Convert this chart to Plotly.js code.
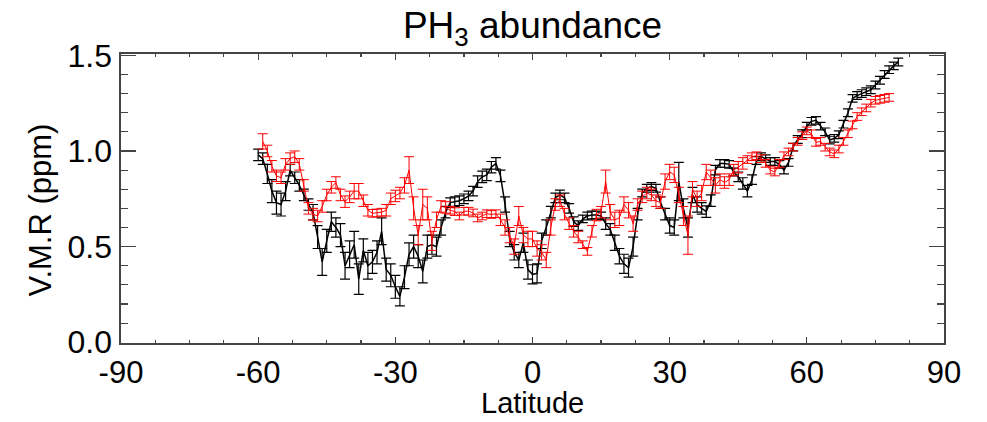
<!DOCTYPE html>
<html>
<head>
<meta charset="utf-8">
<script src="https://cdn.plot.ly/plotly-3.0.1.min.js"></script>
<style>html,body{margin:0;padding:0;background:#fff;}#chart{width:987px;height:422px;}</style>
</head>
<body>
<div id="chart"></div>
<script>
// Black series: latitude -60 .. 80, 1 degree steps
var blackStart = -60;
var blackVMR = [
0.98,0.96,0.88,0.79,0.73,0.72,0.79,0.90,0.86,0.82,
0.77,0.72,0.68,0.55,0.42,0.53,0.63,0.60,0.56,0.40,
0.46,0.51,0.33,0.48,0.40,0.42,0.47,0.58,0.38,0.35,
0.29,0.24,0.34,0.46,0.50,0.45,0.37,0.50,0.51,0.50,
0.60,0.68,0.73,0.735,0.74,0.75,0.765,0.79,0.84,0.865,
0.875,0.915,0.935,0.87,0.72,0.54,0.47,0.43,0.52,0.38,
0.355,0.36,0.53,0.60,0.68,0.755,0.77,0.755,0.70,0.63,
0.61,0.645,0.66,0.665,0.665,0.66,0.62,0.59,0.52,0.45,
0.41,0.39,0.50,0.67,0.78,0.805,0.814,0.805,0.73,0.67,
0.61,0.60,0.84,0.70,0.60,0.77,0.72,0.70,0.683,0.74,
0.90,0.935,0.935,0.93,0.89,0.865,0.83,0.79,0.85,0.95,
0.97,0.96,0.945,0.945,0.93,0.90,0.94,1.02,1.06,1.09,
1.13,1.155,1.16,1.13,1.10,1.057,1.066,1.085,1.14,1.20,
1.275,1.29,1.30,1.31,1.32,1.345,1.37,1.40,1.425,1.445,
1.465];
var blackErr = [
0.03,0.03,0.05,0.06,0.06,0.06,0.05,0.03,0.03,0.03,
0.03,0.03,0.04,0.06,0.07,0.06,0.05,0.05,0.06,0.07,
0.07,0.07,0.08,0.06,0.07,0.06,0.06,0.07,0.06,0.06,
0.06,0.05,0.06,0.06,0.06,0.06,0.06,0.06,0.05,0.05,
0.04,0.03,0.025,0.025,0.025,0.025,0.025,0.025,0.03,0.03,
0.03,0.03,0.03,0.03,0.04,0.04,0.04,0.04,0.05,0.05,
0.05,0.05,0.04,0.04,0.03,0.025,0.025,0.025,0.025,0.025,
0.025,0.02,0.02,0.02,0.02,0.02,0.03,0.03,0.04,0.04,
0.05,0.05,0.05,0.03,0.02,0.02,0.02,0.02,0.03,0.03,
0.04,0.04,0.10,0.05,0.05,0.04,0.04,0.03,0.03,0.03,
0.025,0.02,0.02,0.02,0.02,0.025,0.03,0.03,0.025,0.02,
0.02,0.02,0.02,0.02,0.02,0.02,0.02,0.02,0.02,0.02,
0.02,0.02,0.02,0.02,0.02,0.02,0.02,0.02,0.02,0.02,
0.02,0.02,0.02,0.02,0.02,0.02,0.02,0.02,0.02,0.02,
0.02];

// Red series: latitude -59 .. 78, 1 degree steps
var redStart = -59;
var redVMR = [
1.05,1.00,0.92,0.87,0.86,0.93,0.96,0.97,0.93,0.82,
0.70,0.67,0.66,0.71,0.77,0.81,0.835,0.77,0.735,0.76,
0.79,0.79,0.74,0.69,0.674,0.676,0.68,0.69,0.75,0.765,
0.78,0.82,0.90,0.70,0.56,0.72,0.70,0.53,0.64,0.71,
0.705,0.69,0.683,0.66,0.685,0.685,0.676,0.65,0.66,0.672,
0.668,0.672,0.64,0.60,0.56,0.50,0.66,0.56,0.54,0.54,
0.49,0.47,0.43,0.60,0.72,0.74,0.67,0.62,0.58,0.55,
0.51,0.475,0.58,0.665,0.68,0.84,0.68,0.64,0.65,0.72,
0.69,0.62,0.72,0.76,0.78,0.77,0.74,0.73,0.84,0.89,
0.875,0.77,0.66,0.56,0.80,0.75,0.78,0.89,0.86,0.82,
0.85,0.835,0.85,0.90,0.915,0.935,0.955,0.97,0.975,0.96,
0.935,0.90,0.89,0.935,0.975,0.995,1.02,1.05,1.08,1.105,
1.09,1.045,1.05,1.02,0.995,0.985,1.01,1.05,1.09,1.136,
1.18,1.205,1.225,1.25,1.265,1.27,1.275,1.28];
var redErr = [
0.04,0.03,0.03,0.03,0.03,0.03,0.03,0.03,0.03,0.03,
0.03,0.03,0.03,0.03,0.03,0.03,0.03,0.03,0.03,0.03,
0.04,0.04,0.03,0.03,0.02,0.02,0.02,0.03,0.03,0.03,
0.03,0.04,0.07,0.06,0.05,0.08,0.06,0.05,0.04,0.03,
0.03,0.02,0.02,0.02,0.02,0.02,0.02,0.02,0.02,0.02,
0.02,0.02,0.03,0.04,0.04,0.04,0.05,0.04,0.04,0.04,
0.04,0.04,0.04,0.04,0.03,0.03,0.03,0.03,0.03,0.03,
0.02,0.02,0.03,0.03,0.03,0.06,0.04,0.04,0.04,0.04,
0.04,0.04,0.03,0.03,0.03,0.03,0.03,0.03,0.04,0.04,
0.04,0.04,0.05,0.10,0.04,0.04,0.04,0.04,0.04,0.04,
0.03,0.03,0.03,0.03,0.03,0.03,0.02,0.02,0.02,0.02,
0.02,0.02,0.02,0.02,0.02,0.02,0.02,0.02,0.02,0.02,
0.02,0.02,0.02,0.02,0.02,0.02,0.02,0.02,0.02,0.02,
0.02,0.02,0.02,0.02,0.02,0.02,0.02,0.02];

var xTickVals = [-90,-60,-30,0,30,60,90];
var xTickText = ['-90','-60','-30','0','30','60','90'];
var yTickVals = [0,0.5,1.0,1.5];
var yTickText = ['0.0','0.5','1.0','1.5'];
var titleText = 'PH<sub>3</sub> abundance';
var xTitleText = 'Latitude';
var yTitleText = 'V.M.R (ppm)';

function lats(start, n){ var a=[]; for(var i=0;i<n;i++){a.push(start+i);} return a; }
var blackLat = lats(blackStart, blackVMR.length);
var redLat = lats(redStart, redVMR.length);

var FONT = '"Liberation Sans", Arial, Helvetica, sans-serif';
var AX = '#444444';

var traces = [
  {x: blackLat, y: blackVMR, type:'scatter', mode:'lines',
   line:{color:'#000000', width:1.5},
   error_y:{type:'data', array:blackErr, visible:true, color:'#000000', thickness:1.2, width:5},
   showlegend:false, hoverinfo:'x+y'},
  {x: redLat, y: redVMR, type:'scatter', mode:'lines',
   line:{color:'#ff0000', width:1},
   error_y:{type:'data', array:redErr, visible:true, color:'#ff0000', thickness:1, width:5},
   showlegend:false, hoverinfo:'x+y'}
];

var layout = {
  width:987, height:422,
  paper_bgcolor:'#ffffff', plot_bgcolor:'#ffffff',
  margin:{l:121, r:43, t:54, b:79, pad:0},
  font:{family:FONT, color:'#000000'},
  showlegend:false,
  title:{text:titleText, font:{family:FONT, size:37, color:'#000'},
         x:0.5, xref:'paper', xanchor:'center', y:0.94, yref:'container', yanchor:'middle'},
  xaxis:{range:[-90,90], tickmode:'array', tickvals:xTickVals, ticktext:xTickText,
         ticks:'inside', ticklen:6, tickwidth:1.3, tickcolor:AX,
         showline:true, linecolor:AX, linewidth:1.6, mirror:'allticks',
         showgrid:false, zeroline:false,
         minor:{tickmode:'linear', tick0:-90, dtick:7.5, ticks:'inside', ticklen:3, tickwidth:1.2, tickcolor:AX, showgrid:false},
         tickfont:{family:FONT, size:31, color:'#000'}, ticklabelstandoff:1},
  yaxis:{range:[-0.004,1.507], tickmode:'array', tickvals:yTickVals, ticktext:yTickText,
         ticks:'inside', ticklen:15, tickwidth:1.3, tickcolor:AX,
         showline:true, linecolor:AX, linewidth:1.6, mirror:'allticks',
         showgrid:false, zeroline:false,
         minor:{tickmode:'linear', tick0:0, dtick:0.1, ticks:'inside', ticklen:7, tickwidth:1.2, tickcolor:AX, showgrid:false},
         tickfont:{family:FONT, size:32, color:'#000'}, ticklabelstandoff:1},
  annotations:[
    {text:xTitleText, xref:'paper', yref:'paper', x:0.5, y:-0.2695, xanchor:'center', yanchor:'bottom',
     showarrow:false, font:{family:FONT, size:29, color:'#000'}},
    {text:yTitleText, xref:'paper', yref:'paper', x:-0.098, y:0.46, xanchor:'center', yanchor:'middle',
     textangle:-90, showarrow:false, font:{family:FONT, size:31, color:'#000'}}
  ]
};

Plotly.newPlot('chart', traces, layout, {displayModeBar:false, staticPlot:true});
</script>
</body>
</html>
